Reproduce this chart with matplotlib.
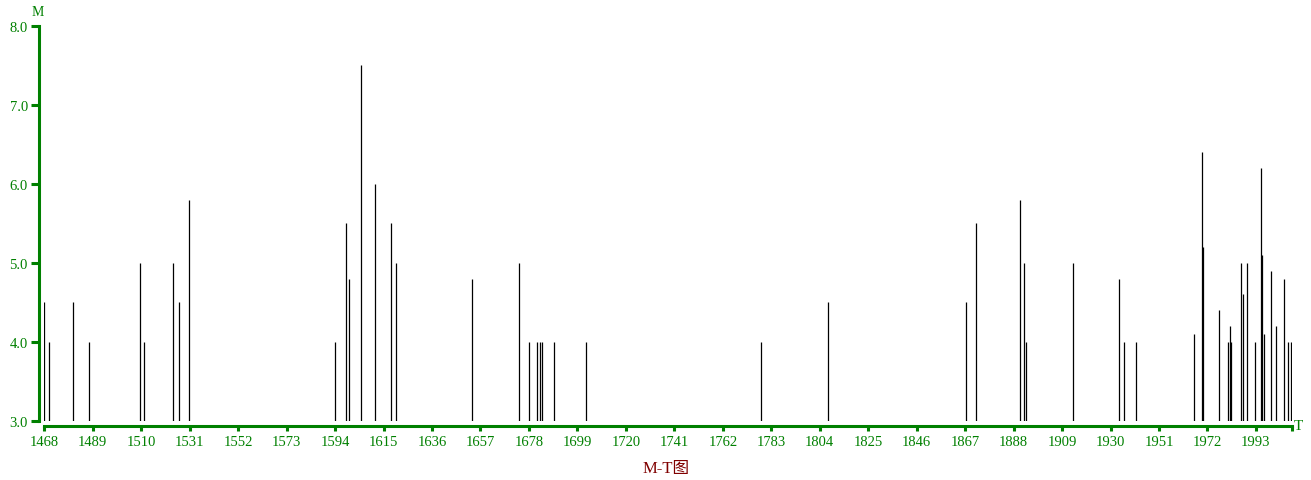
import numpy as np
import matplotlib
matplotlib.use("Agg")
import matplotlib.pyplot as plt
from matplotlib.ticker import FixedLocator

plt.rcParams['font.family'] = ['Liberation Serif', 'Noto Sans CJK SC', 'DejaVu Sans']

# event times (year) and magnitudes M
years = [1468.0, 1470.2, 1480.6, 1487.5, 1509.6, 1511.3, 1523.9, 1526.5, 1530.6,
         1594.1, 1598.9, 1600.2, 1605.4, 1611.4, 1618.3, 1620.5, 1653.4,
         1673.8, 1678.1, 1681.6, 1682.8, 1683.8, 1689.0, 1702.8,
         1778.7, 1807.7, 1867.5, 1871.8, 1890.9, 1892.6, 1893.5,
         1913.8, 1933.8, 1935.9, 1941.1, 1966.3, 1969.7, 1970.0, 1976.8,
         1981.0, 1981.9, 1982.3, 1986.6, 1987.5, 1989.2, 1992.7, 1995.3,
         1995.7, 1996.6, 1999.6, 2001.8, 2005.3, 2007.0, 2008.3]
mags = [4.5, 4.0, 4.5, 4.0, 5.0, 4.0, 5.0, 4.5, 5.8,
        4.0, 5.5, 4.8, 7.5, 6.0, 5.5, 5.0, 4.8,
        5.0, 4.0, 4.0, 4.0, 4.0, 4.0, 4.0,
        4.0, 4.5, 4.5, 5.5, 5.8, 5.0, 4.0,
        5.0, 4.8, 4.0, 4.0, 4.1, 6.4, 5.2, 4.4,
        4.0, 4.2, 4.0, 5.0, 4.6, 5.0, 4.0, 6.2,
        5.1, 4.1, 4.9, 4.2, 4.8, 4.0, 4.0]

xticks = list(range(1468, 2000, 21))
yticks = [3.0, 4.0, 5.0, 6.0, 7.0, 8.0]
x_end = 2008.5

green = '#008000'
W, H = 1311, 481
fig = plt.figure(figsize=(W / 100, H / 100), dpi=100)
ax = fig.add_axes([44.3 / W, (H - 421.7) / H, (1291.7 - 44.3) / W, (421.7 - 26.7) / H])

ax.vlines(years, 3.0, mags, color='black', linewidth=0.9)

ax.set_xlim(1468, x_end)
ax.set_ylim(3.0, 8.0)

for s in ['top', 'right']:
    ax.spines[s].set_visible(False)
for s in ['left', 'bottom']:
    ax.spines[s].set_color(green)
    ax.spines[s].set_linewidth(2.2)
    ax.spines[s].set_position(('outward', 3.8))

ax.set_xticks(xticks)
ax.set_xticklabels([str(t) for t in xticks])
ax.xaxis.set_minor_locator(FixedLocator([x_end]))
ax.set_yticks(yticks)
ax.set_yticklabels(['%.1f' % v for v in yticks])

ax.tick_params(axis='x', which='both', direction='out', length=3.6, width=2.2,
               color=green, labelcolor=green, labelsize=10.5, pad=3)
ax.tick_params(axis='y', direction='out', length=6, width=2.2,
               color=green, labelcolor=green, labelsize=10.5, pad=2)

fig.text(38 / W, 1 - 12 / H, 'M', color=green, fontsize=10, ha='center', va='center')
fig.text(1298 / W, 1 - 426 / H, 'T', color=green, fontsize=11, ha='center', va='center')
fig.text(666 / W, 1 - 469 / H, 'M-T图', color='#800000', fontsize=12, ha='center', va='center')

fig.savefig('out.png', dpi=100)
